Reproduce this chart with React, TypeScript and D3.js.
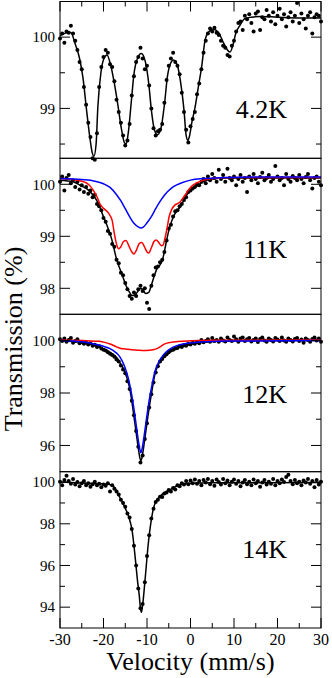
import React from 'react';
import * as d3 from 'd3';

// velocity channels (mm/s), shared by all four spectra
const velocity = [
  -30, -29.5, -29, -28.5, -28, -27.5, -27, -26.5, -26, -25.5,
  -25, -24.5, -24, -23.5, -23, -22.5, -22, -21.5, -21, -20.5,
  -20, -19.5, -19, -18.5, -18, -17.5, -17, -16.5, -16, -15.5,
  -15, -14.5, -14, -13.5, -13, -12.5, -12, -11.5, -11, -10.5,
  -10, -9.5, -9, -8.5, -8, -7.5, -7, -6.5, -6, -5.5,
  -5, -4.5, -4, -3.5, -3, -2.5, -2, -1.5, -1, -0.5,
  0, 0.5, 1, 1.5, 2, 2.5, 3, 3.5, 4, 4.5,
  5, 5.5, 6, 6.5, 7, 7.5, 8, 8.5, 9, 9.5,
  10, 10.5, 11, 11.5, 12, 12.5, 13, 13.5, 14, 14.5,
  15, 15.5, 16, 16.5, 17, 17.5, 18, 18.5, 19, 19.5,
  20, 20.5, 21, 21.5, 22, 22.5, 23, 23.5, 24, 24.5,
  25, 25.5, 26, 26.5, 27, 27.5, 28, 28.5, 29, 29.5,
  30,
];

// measured transmission (%)
const t42K = [
  99.98, 100.05, 99.92, 100.08, 100.06, 100.16, 100.05, 99.95, 99.82, 99.65,
  99.55, 99.3, 99.05, 98.8, 98.6, 98.3, 98.28, 98.65, 99.3, 99.58,
  99.72, 99.82, 99.78, 99.62, 99.58, 99.38, 99.12, 98.95, 98.8, 98.62,
  98.48, 98.55, 98.78, 99.18, 99.45, 99.65, 99.72, 99.85, 99.7, 99.55,
  99.6, 99.32, 99.0, 98.72, 98.62, 98.68, 98.7, 98.78, 99.08, 99.4,
  99.6, 99.7, 99.78, 99.65, 99.6, 99.48, 99.22, 98.95, 98.7, 98.52,
  98.75, 98.85, 98.95, 99.2, 99.35, 99.55, 99.78, 99.95, 100.05, 100.12,
  100.08, 100.13, 100.06, 100.03, 99.95, 99.88, 99.85, 99.75, 99.73, 99.88,
  99.95, 100.08, 100.2, 100.22, 100.1, 100.3, 100.25, 100.32, 100.2, 100.08,
  100.33, 100.36, 100.1, 100.28, 100.25, 100.38, 100.3, 100.22, 100.35, 100.18,
  100.3, 100.4, 100.25, 100.32, 100.15, 100.28, 100.35, 100.22, 100.3, 100.48,
  100.2, 100.33, 100.25, 100.12, 100.3, 100.35, 100.05, 100.28, 100.32, 100.3,
  100.22,
];

const t11K = [
  100.05, 100.15, 99.88, 100.12, 100.18, 100.02, 100.08, 99.95, 100.05, 99.9,
  99.98, 99.85, 99.95, 99.82, 99.88, 99.75, 99.8, 99.62, 99.58, 99.5,
  99.35, 99.28, 99.1, 99.05, 98.85, 98.8, 98.55, 98.48, 98.3, 98.25,
  98.1, 97.98, 97.85, 97.8, 97.92, 97.85, 97.98, 98.05, 97.95, 98.0,
  97.72, 97.6, 98.05, 98.25, 98.4, 98.42, 98.5, 98.55, 98.7, 98.92,
  99.15, 99.22, 99.38, 99.48, 99.5, 99.58, 99.62, 99.7, 99.75, 99.85,
  99.88, 99.92, 99.95, 100.0, 99.98, 100.05, 100.1, 100.02, 100.15, 100.08,
  100.2, 100.12, 100.05, 100.28, 100.1, 100.18, 100.05, 100.3, 100.12, 100.08,
  100.15, 99.98, 100.1, 100.18, 100.05, 100.12, 99.85, 100.15, 100.08, 100.2,
  100.1, 100.02, 100.14, 100.22, 100.08, 100.12, 100.18, 100.05, 100.1, 100.35,
  100.15, 100.08, 100.12, 99.98, 100.2, 100.1, 100.05, 100.16, 100.12, 100.08,
  100.18, 100.1, 100.02, 100.14, 100.2, 100.08, 99.92, 100.12, 100.15, 100.05,
  99.98,
];

const t12K = [
  100.05, 99.98, 100.08, 99.95, 100.02, 100.1, 99.92, 99.98, 100.05, 99.9,
  99.95, 99.88, 99.92, 99.85, 99.9, 99.8, 99.84, 99.75, 99.78, 99.7,
  99.65, 99.62, 99.55, 99.5, 99.45, 99.38, 99.28, 99.2, 99.05, 98.9,
  98.75, 98.45, 98.15, 97.7, 97.15, 96.55, 95.95, 95.35, 95.62, 96.25,
  96.85, 97.45, 97.95, 98.4, 98.78, 99.02, 99.2, 99.3, 99.4, 99.48,
  99.55, 99.62, 99.65, 99.7, 99.72, 99.78, 99.75, 99.82, 99.8, 99.88,
  99.85, 99.92, 99.88, 99.95, 99.9, 100.02, 99.93, 99.98, 100.05, 99.95,
  100.1, 99.98, 100.02, 99.95, 100.08, 100.0, 99.96, 100.12, 100.02, 99.98,
  100.15, 100.05, 99.95, 100.08, 100.12, 99.98, 100.05, 100.1, 99.96, 100.02,
  100.08, 99.94, 100.06, 100.12, 100.0, 99.95, 100.08, 100.02, 99.96, 100.1,
  100.04, 99.98, 100.12, 100.0, 99.95, 100.08, 100.02, 99.96, 100.06, 100.1,
  99.98, 100.04, 99.92, 100.08, 100.02, 99.95, 100.06, 100.12, 100.0, 100.08,
  99.95,
];

const t14K = [
  100.02, 99.85, 100.1, 100.3, 100.05, 99.92, 100.15, 99.88, 100.0, 99.8,
  99.95, 100.05, 99.85, 99.95, 99.78, 99.9, 100.02, 99.85, 99.92, 99.75,
  99.88, 99.82, 99.95, 99.55, 99.85, 99.68, 99.55, 99.4, 99.15, 99.0,
  98.82, 98.5, 98.3, 97.75, 96.95, 96.0, 94.9, 93.95, 94.15, 95.2,
  96.45, 97.45, 98.25, 98.72, 99.05, 99.15, 99.3, 99.28, 99.45, 99.5,
  99.62, 99.55, 99.72, 99.65, 99.85, 99.8, 99.95, 99.88, 100.05, 99.9,
  100.08, 99.95, 100.12, 99.92, 100.05, 99.85, 100.1, 99.98, 100.15, 99.9,
  100.05, 99.82, 100.12, 100.0, 99.88, 100.15, 99.95, 100.08, 99.85, 100.02,
  100.12, 99.92, 100.05, 99.8, 99.98, 100.1, 99.9, 100.02, 99.85, 100.12,
  99.95, 100.05, 99.78, 99.98, 100.1, 99.88, 100.02, 99.92, 100.15, 99.85,
  100.05, 99.95, 100.12, 100.0, 100.25, 100.35, 100.05, 99.9, 100.1, 99.95,
  100.02, 99.85, 100.08, 99.98, 100.15, 99.92, 100.05, 99.75, 100.1, 99.88,
  100.02,
];

// fitted curves, [velocity, transmission]
const fit42K = [
  [-30, 100.02], [-29, 100.05], [-28, 100.07], [-27.4, 100.06], [-26.6, 99.92], [-25.5, 99.7],
  [-24.7, 99.42], [-23.9, 98.98], [-23.2, 98.62], [-22.6, 98.38], [-22.2, 98.33], [-21.7, 98.5],
  [-21.3, 99.02], [-20.6, 99.5], [-19.9, 99.7], [-19.2, 99.75], [-18.4, 99.62], [-17.5, 99.35],
  [-16.7, 99.05], [-15.9, 98.72], [-15.2, 98.52], [-14.8, 98.5], [-14.3, 98.66], [-13.6, 99.1],
  [-13, 99.48], [-12.2, 99.7], [-11.3, 99.77], [-10.4, 99.66], [-9.6, 99.35], [-9, 98.98],
  [-8.3, 98.7], [-7.6, 98.63], [-6.8, 98.72], [-6, 99.05], [-5.3, 99.45], [-4.6, 99.63],
  [-3.9, 99.68], [-3, 99.6], [-2.3, 99.38], [-1.5, 98.98], [-1, 98.62], [-0.6, 98.55],
  [-0.2, 98.62], [0.3, 98.8], [1, 99.0], [1.8, 99.3], [2.6, 99.6], [3.3, 99.94],
  [4.1, 100.07], [5.2, 100.11], [6.4, 100.07], [7.5, 99.93], [8.5, 99.82], [9.1, 99.79],
  [9.8, 99.9], [10.4, 100.05], [11.4, 100.17], [12.5, 100.26], [14, 100.28], [16, 100.29],
  [20, 100.28], [25, 100.27], [30, 100.27],
];

const fit11K = [
  [-30, 100.08], [-27, 100.05], [-25.4, 99.98], [-24, 99.92], [-23, 99.85], [-22, 99.75],
  [-21, 99.6], [-20.4, 99.46], [-19.3, 99.23], [-18.1, 98.94], [-17, 98.56], [-15.8, 98.28],
  [-14.7, 98.03], [-14, 97.92], [-13.4, 97.86], [-12.7, 97.88], [-12.2, 97.93], [-11.5, 98.0],
  [-11, 97.98], [-10.3, 97.9], [-9.6, 97.92], [-9, 98.06], [-8.4, 98.22], [-7.8, 98.36],
  [-7, 98.45], [-6.4, 98.56], [-5.9, 98.75], [-5.3, 99.0], [-4.7, 99.2], [-3.6, 99.43],
  [-2.4, 99.56], [-1.6, 99.68], [-0.9, 99.79], [0, 99.88], [1.4, 99.96], [3, 100.05],
  [5, 100.1], [8, 100.12], [30, 100.12],
];

const red11K = [
  [-30, 100.11], [-27, 100.09], [-25, 100.06], [-24, 100.03], [-23, 99.96], [-22.3, 99.88],
  [-21.5, 99.76], [-20.8, 99.62], [-20, 99.54], [-19.2, 99.48], [-18.5, 99.4], [-18, 99.3],
  [-17.5, 99.05], [-17, 98.85], [-16.5, 98.76], [-16, 98.8], [-15.4, 98.9], [-14.8, 98.92],
  [-14.2, 98.82], [-13.5, 98.7], [-13, 98.66], [-12.4, 98.74], [-11.8, 98.86], [-11.2, 98.88],
  [-10.6, 98.8], [-10, 98.7], [-9.6, 98.68], [-9, 98.78], [-8.4, 98.9], [-7.9, 98.93],
  [-7.3, 98.88], [-6.7, 98.82], [-6.3, 98.83], [-5.9, 98.95], [-5.4, 99.15], [-4.9, 99.38],
  [-4.3, 99.52], [-3.6, 99.6], [-3, 99.63], [-2.4, 99.66], [-1.8, 99.73], [-1.2, 99.8],
  [-0.4, 99.9], [0.5, 99.98], [1.5, 100.03], [3, 100.08], [5, 100.11], [10, 100.13], [30, 100.13],
];

const blue11K = [
  [-30, 100.11], [-25, 100.09], [-22, 100.06], [-20, 100.01], [-18.5, 99.94], [-17, 99.8],
  [-16, 99.68], [-15, 99.53], [-14, 99.38], [-13, 99.25], [-12, 99.18], [-11.4, 99.16],
  [-10.8, 99.18], [-10, 99.26], [-9, 99.38], [-8, 99.53], [-7, 99.67], [-6, 99.79],
  [-5, 99.88], [-4, 99.95], [-2, 100.03], [0, 100.08], [3, 100.11], [8, 100.13],
  [15, 100.14], [30, 100.14],
];

const fit12K = [
  [-30, 99.99], [-27, 99.96], [-24, 99.9], [-22, 99.82], [-20, 99.68], [-18.5, 99.55],
  [-17, 99.35], [-16.2, 99.15], [-15.5, 98.95], [-14.7, 98.62], [-14, 98.2], [-13.5, 97.7],
  [-13, 97.1], [-12.5, 96.5], [-12, 95.9], [-11.6, 95.5], [-11.4, 95.42], [-11.2, 95.5],
  [-10.8, 95.9], [-10.3, 96.5], [-9.8, 97.1], [-9.3, 97.65], [-8.8, 98.15], [-8.2, 98.7],
  [-7.5, 99.05], [-6.6, 99.3], [-5.5, 99.5], [-4, 99.65], [-2, 99.78], [0, 99.86],
  [3, 99.93], [8, 99.98], [15, 100.0], [30, 100.0],
];

const red12K = [
  [-30, 100.02], [-25, 100.0], [-21, 99.97], [-19.5, 99.92], [-18.5, 99.87], [-17, 99.76],
  [-16, 99.7], [-15, 99.68], [-13.5, 99.65], [-12, 99.63], [-10.8, 99.62], [-9.5, 99.63],
  [-8.6, 99.65], [-7.6, 99.7], [-6.8, 99.78], [-5.9, 99.87], [-4.5, 99.93], [-3, 99.96],
  [0, 99.99], [5, 100.01], [30, 100.02],
];

const blue12K = [
  [-30, 100.0], [-25, 99.95], [-22.3, 99.87], [-20, 99.78], [-18.5, 99.69], [-17, 99.52],
  [-16.2, 99.37], [-15.5, 99.15], [-14.7, 98.8], [-14, 98.35], [-13.5, 97.92], [-13, 97.4],
  [-12.5, 96.8], [-12, 96.2], [-11.7, 95.9], [-11.4, 95.72], [-11.1, 95.9], [-10.8, 96.2],
  [-10.3, 96.8], [-9.8, 97.4], [-9.3, 97.92], [-8.8, 98.35], [-8.2, 98.8], [-7.4, 99.15],
  [-6.6, 99.37], [-5.5, 99.58], [-4, 99.75], [-2, 99.86], [2.2, 99.94], [8, 99.98], [30, 100.0],
];

const fit14K = [
  [-30, 100.0], [-25, 99.96], [-20, 99.92], [-18, 99.85], [-17.4, 99.72], [-16.8, 99.5],
  [-16.2, 99.25], [-15.5, 98.98], [-14.8, 98.65], [-14.3, 98.4], [-13.8, 98.05], [-13.4, 97.65],
  [-13, 96.95], [-12.6, 96.15], [-12.2, 95.3], [-11.8, 94.6], [-11.5, 93.95], [-11.3, 93.75],
  [-11, 94.1], [-10.6, 94.95], [-10.2, 95.9], [-9.8, 96.85], [-9.4, 97.6], [-9, 98.2],
  [-8.5, 98.75], [-8, 99.05], [-7, 99.32], [-6, 99.5], [-4.7, 99.63], [-3.5, 99.78],
  [-2.4, 99.87], [0, 99.95], [5, 99.97], [30, 99.98],
];

const labels = ['4.2K', '11K', '12K', '14K'];
const yDomains = [[98.3, 100.5], [97.5, 100.5], [95, 101], [93, 100.5]];
const yMajor = [[99, 100], [98, 99, 100], [96, 98, 100], [94, 96, 98, 100]];
const yMinor = [[98.5, 99.5], [98.5, 99.5], [97, 99], [95, 97, 99]];
const xMajor = [-30, -20, -10, 0, 10, 20, 30];
const xMinor = [-25, -15, -5, 5, 15, 25];

const W = 332;
const H = 678;
const left = 60;
const right = 321;
const edges = [1.5, 158.3, 314.3, 471.7, 628];
const labelBase = [118, 258, 403, 558];
const font = 'Liberation Serif, DejaVu Serif, serif';

const panels = [
  { data: t42K, fits: [{ pts: fit42K, color: '#000' }] },
  { data: t11K, fits: [{ pts: fit11K, color: '#000' }, { pts: red11K, color: '#ff0000' }, { pts: blue11K, color: '#0000ff' }] },
  { data: t12K, fits: [{ pts: fit12K, color: '#000' }, { pts: red12K, color: '#ff0000' }, { pts: blue12K, color: '#0000ff' }] },
  { data: t14K, fits: [{ pts: fit14K, color: '#000' }] },
];

export default function App() {
  const x = d3.scaleLinear().domain([-30, 30]).range([left, right]);

  return (
    <svg width={W} height={H} style={{ position: 'absolute', left: 0, top: 0, background: '#fff' }}>
      {panels.map((p, i) => {
        const top = edges[i];
        const bottom = edges[i + 1];
        const y = d3.scaleLinear().domain(yDomains[i]).range([bottom, top]);
        const line = d3.line<number[]>()
          .x(d => x(d[0]))
          .y(d => y(d[1]))
          .curve(d3.curveMonotoneX);
        return (
          <g key={labels[i]}>
            {p.data.map((t, j) => (
              <circle key={j} cx={x(velocity[j])} cy={y(t)} r={2} fill="#000" />
            ))}
            {p.fits.map((f, k) => (
              <path key={k} d={line(f.pts) || ''} fill="none" stroke={f.color} strokeWidth={1.5} />
            ))}
            {yMajor[i].map(v => (
              <g key={'M' + v}>
                <line x1={left} x2={left + 10} y1={y(v)} y2={y(v)} stroke="#000" />
                <line x1={right - 10} x2={right} y1={y(v)} y2={y(v)} stroke="#000" />
                <text x={left - 5} y={y(v)} dy="0.35em" textAnchor="end" fontSize={15} fontFamily={font}>{v}</text>
              </g>
            ))}
            {yMinor[i].map(v => (
              <g key={'m' + v}>
                <line x1={left} x2={left + 5} y1={y(v)} y2={y(v)} stroke="#000" />
                <line x1={right - 5} x2={right} y1={y(v)} y2={y(v)} stroke="#000" />
              </g>
            ))}
            <rect x={left} y={top} width={right - left} height={bottom - top} fill="none" stroke="#000" strokeWidth={1} />
            <text x={287} y={labelBase[i]} textAnchor="end" fontSize={26} fontFamily={font}>{labels[i]}</text>
          </g>
        );
      })}
      {xMajor.map(v => (
        <g key={'x' + v}>
          <line x1={x(v)} x2={x(v)} y1={edges[0]} y2={edges[0] + 10} stroke="#000" />
          <line x1={x(v)} x2={x(v)} y1={edges[4] - 10} y2={edges[4]} stroke="#000" />
          <text x={x(v)} y={645} textAnchor="middle" fontSize={16} fontFamily={font}>{v}</text>
        </g>
      ))}
      {xMinor.map(v => (
        <g key={'xm' + v}>
          <line x1={x(v)} x2={x(v)} y1={edges[0]} y2={edges[0] + 5} stroke="#000" />
          <line x1={x(v)} x2={x(v)} y1={edges[4] - 5} y2={edges[4]} stroke="#000" />
        </g>
      ))}
      <text x={(left + right) / 2} y={670} textAnchor="middle" fontSize={26} fontFamily={font}>Velocity (mm/s)</text>
      <text transform="translate(22,339) rotate(-90)" textAnchor="middle" fontSize={26} fontFamily={font}>Transmission (%)</text>
    </svg>
  );
}
